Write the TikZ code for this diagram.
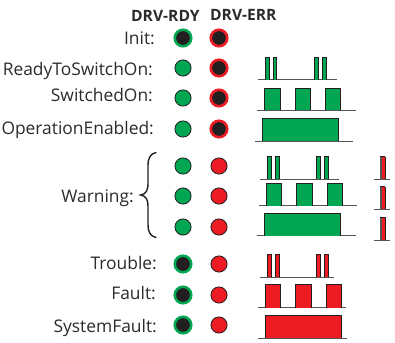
\documentclass[tikz,border=0pt]{standalone}
\usepackage{fontspec}
\setmainfont{Open Sans}
\definecolor{grn}{HTML}{00A651}
\definecolor{rd}{HTML}{ED1C24}
\definecolor{blk}{HTML}{231F20}
\definecolor{txt}{HTML}{2B2B2B}
\definecolor{bas}{HTML}{555555}
\newcommand{\pulsetrain}[6]{%
  \draw[bas,line width=1pt] (#4,#2) -- (#5,#2);
  \foreach \pa/\pb in {#6}{
    \filldraw[fill=#1,draw=blk,line width=1pt,line join=miter] (\pa,#2) -- (\pa,#3) -- (\pb,#3) -- (\pb,#2);
  }%
}
\newcommand{\sidepulse}[2]{%
  \draw[bas,line width=1pt] (373.5,#1) -- (389.5,#1);
  \fill[rd] (382,#1) rectangle (385,#2);
  \fill[bas] (380,#1) rectangle (382,#2);
  \draw[blk,line width=.5pt] (385,#1) -- (385,#2);
  \draw[blk,line width=.8pt] (380,#2) -- (385,#2);
}
\tikzset{
  x=1pt,y=-1pt,
  lab/.style={anchor=base east,inner sep=0pt,text=txt,font=\fontsize{17.4}{20}\selectfont},
  hdr/.style={anchor=base west,inner sep=0pt,text=txt,font=\fontsize{15.6}{18}\selectfont\bfseries},
  ledgrn/.style={circle,inner sep=0pt,minimum size=16.2pt,fill=grn,draw=blk,line width=.8pt},
  ledrd/.style={circle,inner sep=0pt,minimum size=16.2pt,fill=rd,draw=blk,line width=.8pt},
  offgrn/.style={circle,inner sep=0pt,minimum size=16.5pt,fill=blk,draw=grn,line width=2.6pt},
  offrd/.style={circle,inner sep=0pt,minimum size=16.5pt,fill=blk,draw=rd,line width=2.6pt}
}
\begin{document}
\begin{tikzpicture}
\useasboundingbox (0,0) rectangle (395,342);
\node[hdr] (h1) at (131,22) {DRV-RDY};
\node[hdr] (h2) at (210,21) {DRV-ERR};
\node[lab] (l1) at (155,45) {Init:};
\node[lab] (l2) at (153,75) {ReadyToSwitchOn:};
\node[lab] (l3) at (153,101) {SwitchedOn:};
\node[lab] (l4) at (154,134) {OperationEnabled:};
\node[lab] (l5) at (134,202) {Warning:};
\node[lab] (l6) at (157,269) {Trouble:};
\node[lab] (l7) at (156,299) {Fault:};
\node[lab] (l8) at (157,332) {SystemFault:};
\node[offgrn] (a1) at (183,38) {};
\node[ledgrn] (a2) at (183,68) {};
\node[ledgrn] (a3) at (183,98) {};
\node[ledgrn] (a4) at (183,129) {};
\node[ledgrn] (a5) at (183,166) {};
\node[ledgrn] (a6) at (183,196) {};
\node[ledgrn] (a7) at (183,227) {};
\node[offgrn] (a8) at (183,264) {};
\node[offgrn] (a9) at (183,295) {};
\node[offgrn] (a10) at (183,325) {};
\node[offrd] (b1) at (219,38) {};
\node[offrd] (b2) at (219,68) {};
\node[offrd] (b3) at (219,98) {};
\node[offrd] (b4) at (219,129) {};
\node[ledrd] (b5) at (219,166) {};
\node[ledrd] (b6) at (219,196) {};
\node[ledrd] (b7) at (219,227) {};
\node[ledrd] (b8) at (219,264) {};
\node[ledrd] (b9) at (219,295) {};
\node[ledrd] (b10) at (219,325) {};
\draw[blk,line width=1.4pt,line cap=round] (156,152.5) .. controls (150,154) and (148,158) .. (148,166) -- (148,183) .. controls (148,191) and (146,194) .. (140.5,195) .. controls (146,196) and (148,199) .. (148,207) -- (148,224) .. controls (148,232) and (150,236) .. (156,237.5);
\pulsetrain{grn}{80}{57.5}{258}{337}{265.3/269.3,273/276.7,314.3/318.3,322/326}
\pulsetrain{grn}{110}{88}{257.3}{355.7}{264.7/280,295/310.3,325.7/340.7}
\pulsetrain{grn}{141}{118}{255}{353}{262.7/338.3}
\pulsetrain{grn}{179}{156.5}{260}{339}{267.3/271.3,275.3/279,316.3/320.3,324.3/328}
\pulsetrain{grn}{205.7}{183}{259}{357}{266.3/281.7,296.7/312,327/342.3}
\pulsetrain{grn}{235.7}{213}{257}{355.7}{264.7/340.3}
\sidepulse{179}{156.5}
\sidepulse{209}{186.5}
\sidepulse{240}{217}
\pulsetrain{rd}{277.3}{254.7}{260.3}{333.7}{267.3/271.3,275.3/279,316.3/320.3,324.3/328}
\pulsetrain{rd}{307.7}{284.7}{258}{346}{265/280.7,295.7/311,326/341}
\pulsetrain{rd}{338}{315.3}{258}{347}{265/341}
\end{tikzpicture}
\end{document}
